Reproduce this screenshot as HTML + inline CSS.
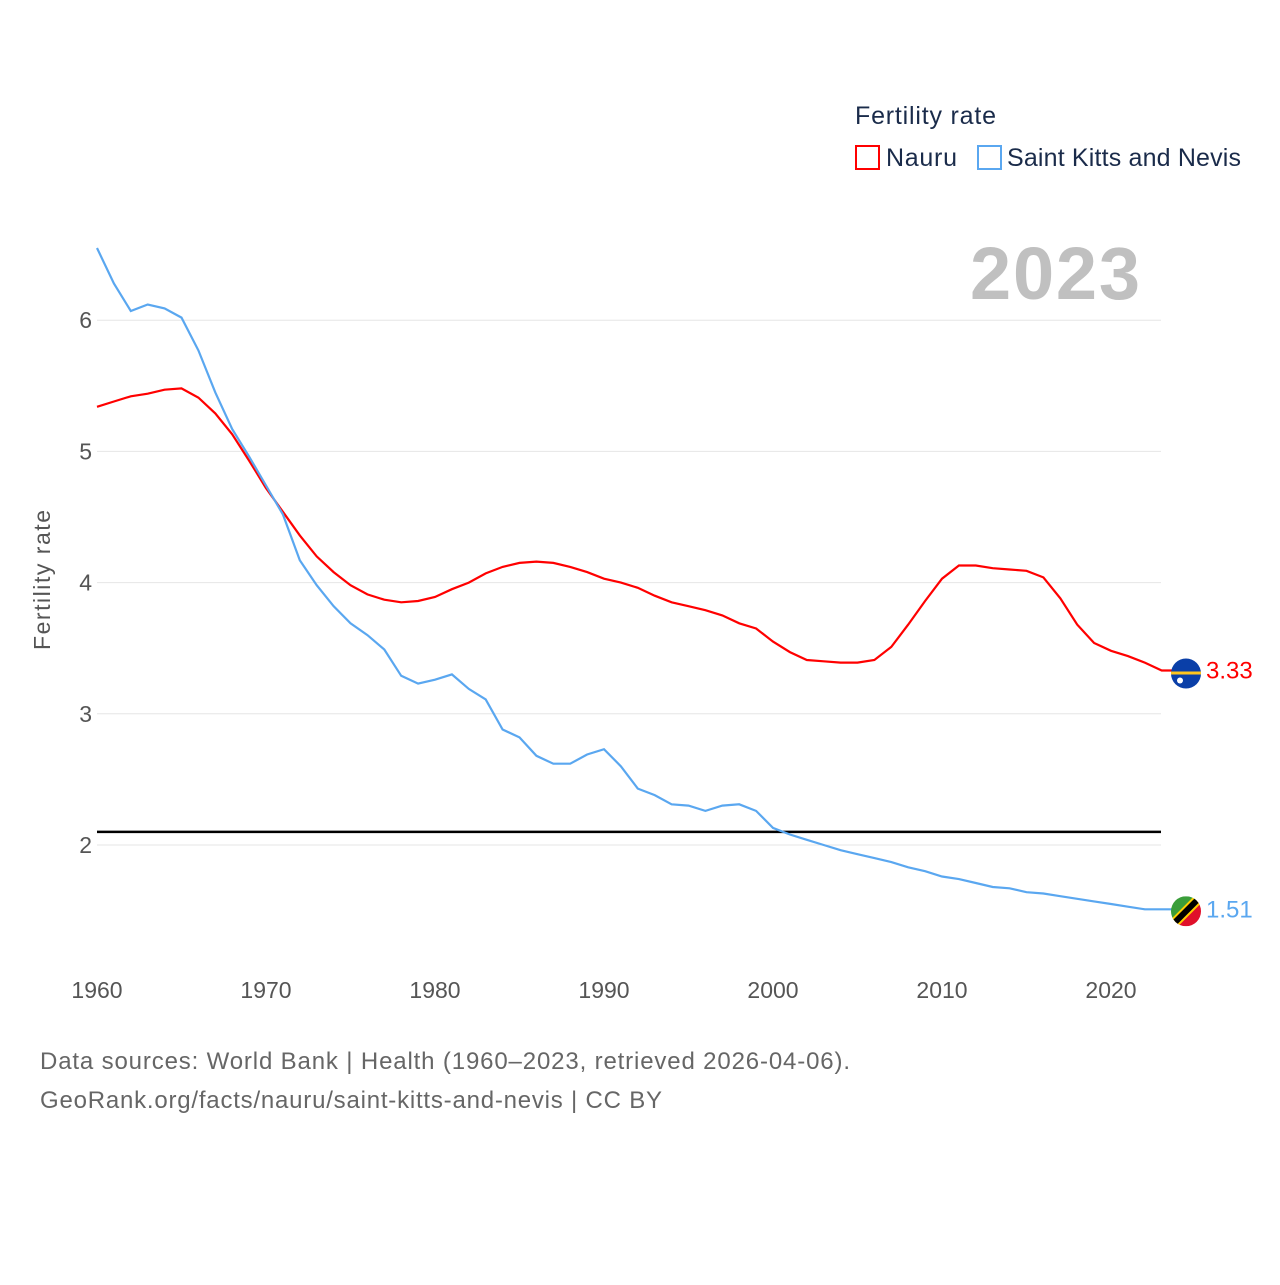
<!DOCTYPE html>
<html><head><meta charset="utf-8">
<style>
body{margin:0;background:#fff;}
svg text{font-family:"Liberation Sans",sans-serif;}
</style></head>
<body>
<svg width="1280" height="1280" viewBox="0 0 1280 1280" id="chart">
<text x="855" y="124" font-size="25" fill="#1a2b4a" textLength="141">Fertility rate</text>
<g>
<rect x="856" y="146" width="23" height="23" fill="none" stroke="#ff0000" stroke-width="2"/>
<text x="886" y="166" font-size="25" fill="#1a2b4a" textLength="71">Nauru</text></g>
<g>
<rect x="978" y="146" width="23" height="23" fill="none" stroke="#5aa7f0" stroke-width="2"/>
<text x="1007" y="166" font-size="25" fill="#1a2b4a" textLength="234">Saint Kitts and Nevis</text></g>
<text x="1140" y="299" font-size="74" font-weight="bold" fill="#c0c0c0" text-anchor="end" textLength="170">2023</text>
<text transform="translate(50,580) rotate(-90)" font-size="23" fill="#555" text-anchor="middle" textLength="140">Fertility rate</text>
<g id="grid"></g><g id="lines"></g>
<text x="40" y="1069" font-size="24" fill="#666" textLength="810">Data sources: World Bank | Health (1960–2023, retrieved 2026-04-06).</text>
<text x="40" y="1108" font-size="24" fill="#666" textLength="622">GeoRank.org/facts/nauru/saint-kitts-and-nevis | CC BY</text>
</svg>
<script>
const years=[];for(let y=1960;y<=2023;y++)years.push(y);
const nauru=[5.34,5.38,5.42,5.44,5.47,5.48,5.41,5.29,5.13,4.93,4.72,4.54,4.36,4.20,4.08,3.98,3.91,3.87,3.85,3.86,3.89,3.95,4.00,4.07,4.12,4.15,4.16,4.15,4.12,4.08,4.03,4.00,3.96,3.90,3.85,3.82,3.79,3.75,3.69,3.65,3.55,3.47,3.41,3.40,3.39,3.39,3.41,3.51,3.68,3.86,4.03,4.13,4.13,4.11,4.10,4.09,4.04,3.88,3.68,3.54,3.48,3.44,3.39,3.33];
const kitts=[6.55,6.28,6.07,6.12,6.09,6.02,5.77,5.45,5.17,4.96,4.74,4.52,4.17,3.98,3.82,3.69,3.60,3.49,3.29,3.23,3.26,3.30,3.19,3.11,2.88,2.82,2.68,2.62,2.62,2.69,2.73,2.60,2.43,2.38,2.31,2.30,2.26,2.30,2.31,2.26,2.13,2.08,2.04,2.00,1.96,1.93,1.90,1.87,1.83,1.80,1.76,1.74,1.71,1.68,1.67,1.64,1.63,1.61,1.59,1.57,1.55,1.53,1.51,1.51];
const yTicks=[2,3,4,5,6];
const xTicks=[1960,1970,1980,1990,2000,2010,2020];
const replacement=2.1;
const X=y=>97+(y-1960)*16.9, Y=v=>845-(v-2)*131.2;
const NS="http://www.w3.org/2000/svg";
const mk=(t,a,p,txt)=>{const e=document.createElementNS(NS,t);for(const k in a)e.setAttribute(k,a[k]);if(txt!=null)e.textContent=txt;p.appendChild(e);return e;};
const g=document.getElementById('grid'),L=document.getElementById('lines');
yTicks.forEach(v=>{
 const l=mk('line',{x1:97,x2:1161,y1:Y(v),y2:Y(v),stroke:'#e6e6e6','stroke-width':1},g);
 
 
 const t=mk('text',{x:92,y:Y(v)+8,'font-size':23,fill:'#555','text-anchor':'end'},g,String(v));
 
 
});
xTicks.forEach(v=>{
 const t=mk('text',{x:X(v),y:998,'font-size':23,fill:'#555','text-anchor':'middle'},g,String(v));
 
 
});
const rl=mk('line',{x1:97,x2:1161,y1:Y(replacement),y2:Y(replacement),stroke:'#000','stroke-width':2.5},L);


function series(vals,color,name){
 const last=vals[vals.length-1];
 const d=vals.map((v,i)=>(i?'L':'M')+X(years[i]).toFixed(1)+','+Y(v).toFixed(1)).join('')+'L1172,'+Y(last).toFixed(1);
 const p=mk('path',{d:d,fill:'none',stroke:color,'stroke-width':2.2},L);
 
 
 const t=mk('text',{x:1206,y:Y(last)+8,'font-size':24,fill:color},L,last.toFixed(2));
 
 
 return Y(last);
}
const yn=series(nauru,'#ff0000','nauru');
const yk=series(kitts,'#5aa7f0','saint-kitts');
const fn=mk('g',{},L);


mk('circle',{cx:1186,cy:yn+3,r:15,fill:'#0a3fa8'},fn);
mk('rect',{x:1171,y:yn+1,width:30,height:3,fill:'#ffc61e'},fn);
mk('circle',{cx:1180,cy:yn+10,r:3,fill:'#fff'},fn);
const fk=mk('g',{},L);


const cy=yk+2;
const cp=mk('clipPath',{id:'kc'},fk);
mk('circle',{cx:1186,cy:cy,r:15},cp);
const cg=mk('g',{'clip-path':'url(#kc)'},fk);
mk('polygon',{points:`1171,${cy-15} 1201,${cy-15} 1171,${cy+15}`,fill:'#3a9e3a'},cg);
mk('polygon',{points:`1201,${cy-15} 1201,${cy+15} 1171,${cy+15}`,fill:'#e0102a'},cg);
mk('line',{x1:1171,y1:cy+15,x2:1201,y2:cy-15,stroke:'#ffd000','stroke-width':10},cg);
mk('line',{x1:1171,y1:cy+15,x2:1201,y2:cy-15,stroke:'#000','stroke-width':6},cg);
</script>
</body></html>
